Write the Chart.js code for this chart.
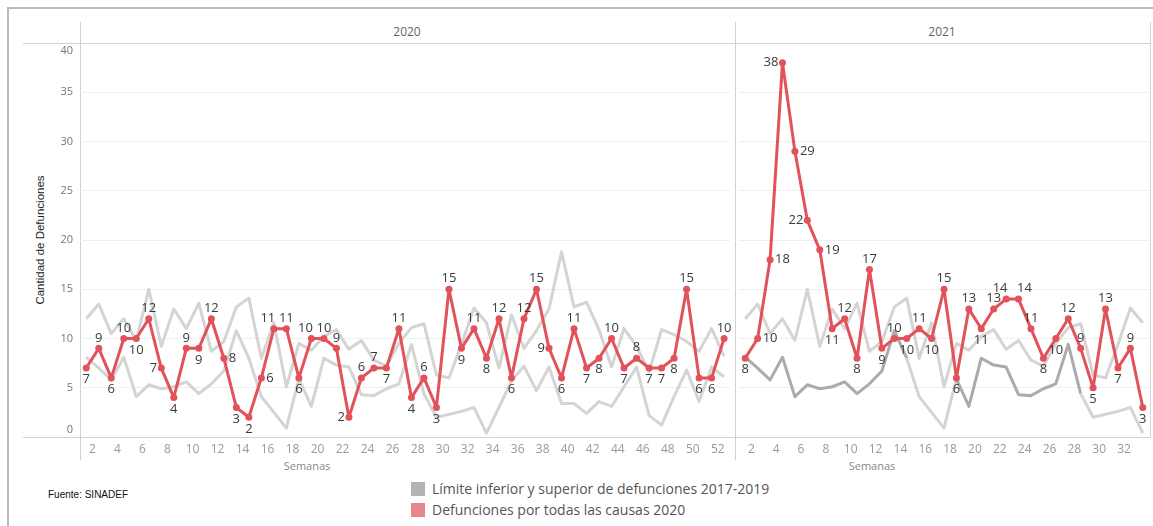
<!DOCTYPE html>
<html><head><meta charset="utf-8">
<script src="https://cdn.jsdelivr.net/npm/chart.js@4.4.1/dist/chart.umd.min.js"></script>
<style>
html,body{margin:0;padding:0;background:#fff;}
body{width:1153px;height:526px;overflow:hidden;position:relative;font-family:"Open Sans",sans-serif;}
.abs{position:absolute;}
.hl{position:absolute;height:1px;background:#d2d2d2;}
.vl{position:absolute;width:1px;background:#d2d2d2;}
canvas{position:absolute;top:0;}
</style></head><body>

<div class="abs" style="left:7px;top:7px;width:1200px;height:600px;border-left:2px solid #b9b9b9;border-top:2px solid #b9b9b9;"></div>
<div class="hl" style="left:23px;top:43px;width:1128px;"></div>
<div class="hl" style="left:23px;top:437px;width:1128px;"></div>
<div class="vl" style="left:80px;top:22px;height:438px;"></div>
<div class="vl" style="left:735px;top:22px;height:438px;"></div>
<div class="vl" style="left:1150px;top:22px;height:415px;"></div>

<div class="abs" style="left:367px;top:23px;width:80px;text-align:center;font-size:12px;color:#666;">2020</div>
<div class="abs" style="left:902px;top:23px;width:80px;text-align:center;font-size:12px;color:#666;">2021</div>

<div class="abs" style="left:-30px;top:232px;width:140px;height:16px;text-align:center;transform:rotate(-90deg);font-family:'Liberation Sans',Arial,sans-serif;font-size:11.5px;color:#222;line-height:16px;white-space:nowrap;">Cantidad de Defunciones</div>

<div class="abs" style="left:267px;top:458px;width:80px;text-align:center;font-size:11px;color:#888;">Semanas</div>
<div class="abs" style="left:832px;top:458px;width:80px;text-align:center;font-size:11px;color:#888;">Semanas</div>

<div class="abs" style="left:48px;top:489px;font-family:'Liberation Sans',Arial,sans-serif;font-size:10px;color:#111;">Fuente: SINADEF</div>

<div class="abs" style="left:411px;top:482px;width:14px;height:14px;background:#b4b4b4;"></div>
<div class="abs" style="left:432px;top:479px;font-size:14px;color:#555;white-space:nowrap;">Límite inferior y superior de defunciones 2017-2019</div>
<div class="abs" style="left:411px;top:503px;width:14px;height:14px;background:#e8878b;"></div>
<div class="abs" style="left:432px;top:500px;font-size:14px;color:#555;white-space:nowrap;">Defunciones por todas las causas 2020</div>

<canvas id="c2020" width="736" height="526" style="left:0px;width:736px;height:526px;"></canvas>
<canvas id="c2021" width="418" height="526" style="left:735px;width:418px;height:526px;"></canvas>

<script>
// ---- data ----
const weeks2020 = [1,2,3,4,5,6,7,8,9,10,11,12,13,14,15,16,17,18,19,20,21,22,23,24,25,26,27,28,29,30,31,32,33,34,35,36,37,38,39,40,41,42,43,44,45,46,47,48,49,50,51,52];
const weeks2021 = [1,2,3,4,5,6,7,8,9,10,11,12,13,14,15,16,17,18,19,20,21,22,23,24,25,26,27,28,29,30,31,32,33];

const deaths2020 = [7,9,6,10,10,12,7,4,9,9,12,8,3,2,6,11,11,6,10,10,9,2,6,7,7,11,4,6,3,15,9,11,8,12,6,12,15,9,6,11,7,8,10,7,8,7,7,8,15,6,6,10];
const deaths2021 = [8,10,18,38,29,22,19,11,12,8,17,9,10,10,11,10,15,6,13,11,13,14,14,11,8,10,12,9,5,13,7,9,3];

// 2017-2019 limits by epidemiological week (same for both panels)
const upperLimit = [12.0,13.5,10.5,12.0,9.8,15.0,9.2,13.0,11.0,13.6,8.7,9.7,13.2,14.1,8.0,11.6,5.1,9.5,8.8,10.2,10.9,8.9,9.8,7.8,7.2,9.5,11.1,11.5,6.3,6.0,9.4,13.1,11.6,7.0,12.4,9.0,10.8,13.0,18.8,13.2,13.7,10.9,7.1,11.0,9.2,6.6,10.9,10.4,9.7,8.7,11.0,8.2];
const lowerLimit = [8.1,7.0,5.8,8.1,4.1,5.3,4.9,5.1,5.6,4.4,5.4,6.7,10.8,8.0,4.1,2.5,0.9,5.9,3.1,8.0,7.3,7.1,4.3,4.2,4.9,5.4,9.4,4.4,2.0,2.3,2.6,3.0,0.4,3.0,5.7,7.2,4.7,7.1,3.4,3.4,2.4,3.6,3.1,5.1,7.1,2.2,1.2,4.1,6.8,3.6,7.1,6.1];

const yTicks = [0,5,10,15,20,25,30,35,40];

// ---- styles ----
const RED = '#e2525a';
const LIGHT = '#d4d4d4';
const DARK = '#ababab';
// t=top, b=bottom, l=left, r=right, u=top shifted left, v=top shifted right
const labelPos2020 = 'btbtbtlbtb' + 'trbbrutbut' + 'tlttbtbtbt' + 'btbtbttlbt' + 'bbtbtbbbtb' + 'bt';
const labelPos2021 = 'brrlrlrbtb' + 'tbtbtbtbtb' + 'tuvtbbttbt' + 'btb';

const ptLabels = {
  id: 'ptLabels',
  afterDatasetsDraw(chart, args, opts) {
    const meta = chart.getDatasetMeta(0);
    const data = chart.data.datasets[0].data;
    const ctx = chart.ctx;
    ctx.save();
    ctx.font = '13px "Open Sans"';
    ctx.fillStyle = '#3a3a3a';
    meta.data.forEach((pt, i) => {
      const p = opts.pos[i];
      let x = pt.x, y = pt.y;
      if (p === 't' || p === 'u' || p === 'v') {
        ctx.textAlign = 'center'; ctx.textBaseline = 'bottom'; y -= 4;
        if (p === 'u') x -= 6;
        if (p === 'v') x += 6;
      }
      else if (p === 'b') { ctx.textAlign = 'center'; ctx.textBaseline = 'top'; y += 5; }
      else if (p === 'l') { ctx.textAlign = 'right'; ctx.textBaseline = 'middle'; x -= 4; }
      else { ctx.textAlign = 'left'; ctx.textBaseline = 'middle'; x += 5; }
      ctx.fillText(String(data[i]), x, y);
    });
    ctx.restore();
  }
};

const yLabels = {
  id: 'yLabels',
  afterDraw(chart, args, opts) {
    if (!opts.show) return;
    const s = chart.scales.y;
    const ctx = chart.ctx;
    ctx.save();
    ctx.font = '11px "Open Sans"';
    ctx.fillStyle = '#777';
    ctx.textAlign = 'right';
    ctx.textBaseline = 'middle';
    yTicks.forEach(v => {
      let y = s.getPixelForValue(v);
      if (v === yTicks[yTicks.length - 1]) y += 8;
      if (v === yTicks[0]) y -= 7;
      ctx.fillText(String(v), 73, y);
    });
    ctx.restore();
  }
};

function makeChart(id, weeks, deaths, pos, yWidth, padRight, lowerSeg) {
  const n = weeks.length;
  return new Chart(document.getElementById(id), {
    type: 'line',
    data: {
      labels: weeks,
      datasets: [
        { label: 'Defunciones por todas las causas 2020', data: deaths, borderColor: RED, backgroundColor: RED,
          borderWidth: 3, borderJoinStyle: 'round', borderCapStyle: 'round', pointRadius: 3.5, pointBorderWidth: 0,
          pointBackgroundColor: RED, tension: 0, order: 0 },
        { label: 'Límite superior', data: upperLimit.slice(0, n), borderColor: LIGHT, borderWidth: 3,
          borderJoinStyle: 'round', pointRadius: 0, tension: 0, order: 2 },
        { label: 'Límite inferior', data: lowerLimit.slice(0, n), borderColor: LIGHT, borderWidth: 3,
          borderJoinStyle: 'round', pointRadius: 0, tension: 0, order: 1, segment: lowerSeg }
      ]
    },
    options: {
      responsive: false,
      animation: false,
      layout: { padding: { top: 43, right: padRight, left: 0, bottom: 0 } },
      plugins: { legend: { display: false }, tooltip: { enabled: false },
        ptLabels: { pos: pos }, yLabels: { show: yWidth > 0 } },
      scales: {
        x: {
          type: 'category', offset: true,
          grid: { display: false, drawTicks: false }, border: { display: false },
          ticks: { autoSkip: false, maxRotation: 0, padding: 5, labelOffset: -6.3, color: '#999',
            font: { family: 'Open Sans', size: 12 },
            callback: function(v, i) { const w = weeks[i]; return w % 2 === 0 ? String(w) : ''; } },
          afterFit: s => { s.height = 89; }
        },
        y: {
          min: 0, max: 40,
          ticks: { display: false, stepSize: 5 },
          border: { display: false },
          grid: { drawTicks: false, lineWidth: 1,
            color: c => (c.tick.value === 0 || c.tick.value === 40) ? 'rgba(0,0,0,0)' : '#efefef' },
          afterFit: s => { s.width = yWidth; }
        }
      }
    },
    plugins: [ptLabels, yLabels]
  });
}

makeChart('c2020', weeks2020, deaths2020, labelPos2020, 80, 1, undefined);
makeChart('c2021', weeks2021, deaths2021, labelPos2021, 0, 2, {
  borderColor: c => {
    const i = c.p0DataIndex;
    return (i < 13 || (i >= 17 && i < 27)) ? DARK : LIGHT;
  }
});
</script>
</body></html>
